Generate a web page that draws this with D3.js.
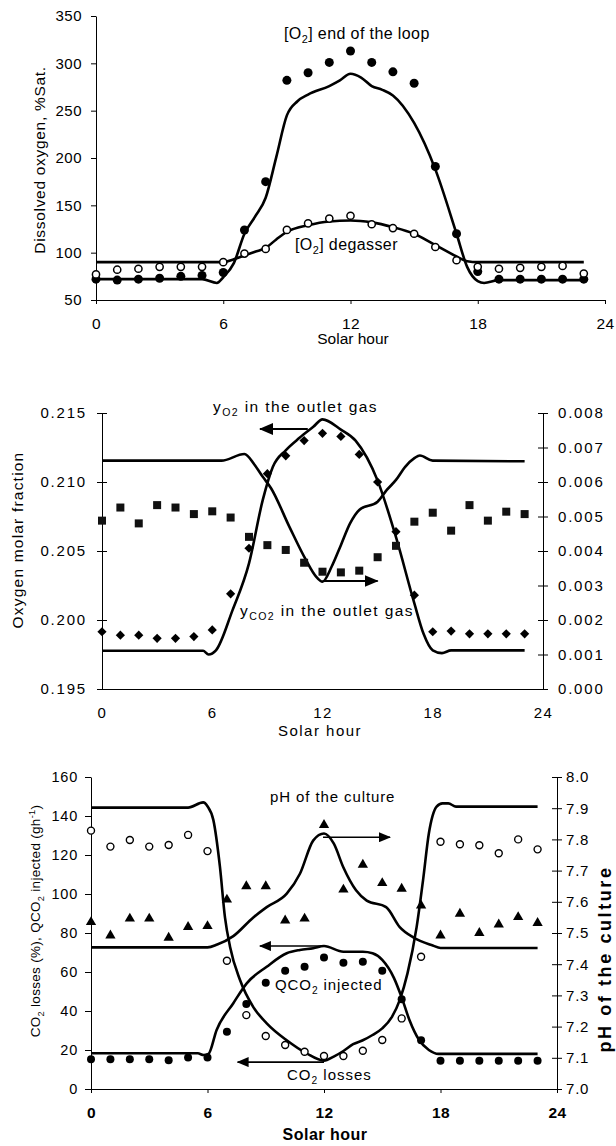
<!DOCTYPE html>
<html>
<head>
<meta charset="utf-8">
<script src="https://cdn.jsdelivr.net/npm/d3@7"></script>
<style>
  body { margin: 0; background: #fff; }
  svg { display: block; font-family: "Liberation Sans", Arial, sans-serif; }
  .axis path, .axis line { stroke: #000; stroke-width: 1; }
  .axis text { fill: #000; }
  .model { fill: none; stroke: #000; stroke-width: 2.6; stroke-linejoin: round; }
</style>
</head>
<body>
<div id="chart"></div>
<script>
// ---- data ----
const hours = [0,1,2,3,4,5,6,7,8,9,10,11,12,13,14,15,16,17,18,19,20,21,22,23];
const xTicks = [0, 6, 12, 18, 24];

// panel 1 : dissolved oxygen (%Sat.)
const o2LoopObs = [72,71,72,73,75,76,79,124,175,282,290,301,313,301,291,279,191,120,80,72,72,72,72,72];
const o2DegasObs = [77,82,83,85,85,85,90,99,104,124,131,136,139,130,126,120,106,92,85,83,84,85,86,78];
const o2LoopModelH = [0,5,5.7,6,6.5,7,7.5,8,8.5,9,9.5,10,11,11.5,12,12.5,13,13.5,14,15,16,17,17.5,18,18.3,19,23];
const o2LoopModel  = [72,72,68,74,89,120,138,158,201,245,260,267,276,282,289,285,276,272,266,237,188,120,85,70,68,71,71];
const o2DegasModelH = [0,6,6.5,7,7.5,8,8.5,9,10,11,12,13,14,15,16,17,17.5,18,23];
const o2DegasModel  = [90,90,93,97,101,105,114,122,129,133,134,132,127,120,108,96,91,90,90];
const o2Ticks = [50,100,150,200,250,300,350];

// panel 2 : outlet gas
const yO2Obs = [0.19915,0.1989,0.1989,0.19867,0.19867,0.1988,0.19928,0.2019,0.2052,0.2106,0.2119,0.2130,0.21353,0.2133,0.2120,0.2100,0.2064,0.2018,0.19915,0.1992,0.1990,0.1990,0.1990,0.1990];
const yCO2Obs = [0.00488,0.00526,0.0048,0.00533,0.00526,0.00507,0.00515,0.00497,0.00441,0.00417,0.00403,0.00366,0.0034,0.00338,0.00343,0.00382,0.00415,0.00485,0.00511,0.00459,0.00533,0.00488,0.00514,0.00507];
const yO2ModelH = [0,5.5,5.8,6.2,7.1,8,8.75,9.3,10,10.75,11.5,12,13,13.8,15,16,17,17.5,18,18.5,19,23];
const yO2Model  = [0.19777,0.19777,0.1975,0.1978,0.2007,0.2041,0.2087,0.2111,0.2123,0.2132,0.2140,0.21454,0.2138,0.2130,0.2101,0.2060,0.2012,0.1990,0.1978,0.1976,0.1978,0.1978];
const yCO2ModelH = [0,6.5,7.75,8.3,8.75,9.2,10.2,11.1,11.65,12,12.5,13,13.5,14,15,15.5,16,16.5,17,17.3,18,23];
const yCO2Model  = [0.00662,0.00662,0.00681,0.0065,0.00615,0.00582,0.0047,0.00374,0.00326,0.00311,0.00355,0.00417,0.0048,0.00519,0.00543,0.00577,0.00606,0.00644,0.00669,0.00677,0.00662,0.0066];
const fracTicks = [0.195,0.200,0.205,0.210,0.215];
const co2FracTicks = [0,0.001,0.002,0.003,0.004,0.005,0.006,0.007,0.008];

// panel 3 : CO2 losses, QCO2 injected, pH
const lossObs = [132.5,124.3,127.7,124.3,125.1,130.3,122,65.8,37.9,27.2,22.6,19.1,16.9,16.9,19.6,25.1,36.2,67.8,126.8,125.5,125,120.9,128,122.9];
const qco2Obs = [15.2,15.2,15.2,15.2,14.7,16.2,16.2,29.4,43.6,54.5,60.7,62.7,67.5,64.8,65.3,60.7,46,25,14.5,14.5,14.5,14.5,14.5,14.5];
const phObs = [7.535,7.492,7.546,7.546,7.485,7.519,7.522,7.607,7.65,7.65,7.54,7.546,7.846,7.639,7.719,7.66,7.642,7.588,7.492,7.562,7.5,7.527,7.551,7.532];
const lossModelH = [0,5,5.78,6,6.3,6.64,6.9,7.16,7.67,8.36,9.05,10.08,11.1,12,12.5,13,13.5,14,14.5,15,15.5,15.9,16.3,16.77,17.1,17.4,17.8,18.1,18.4,18.8,23];
const lossModel  = [144.3,144.3,147,145,138,114,88,73,56,42,33.7,25,18.3,14.5,16.6,19.5,23,25,27.7,31.1,37,45.6,59.3,83,107,131,144.8,146.5,146.5,144.8,144.8];
const qco2ModelH = [0,5.5,5.8,6.05,6.47,7.33,8.02,9.05,10.08,10.76,11.45,12,13,14,14.5,15,15.6,16,16.4,16.9,17.4,17.9,23];
const qco2Model  = [18.3,18.3,17.4,18,30.3,44,54.2,62.7,69.6,71.3,72.2,73.3,70.4,70.4,69.6,66.2,57,47,35.4,25.1,20,18,18];
const phModelH = [0,6,6.5,7.33,8.36,9.05,10.08,10.76,11.45,12,12.5,13,13.65,14.2,15.2,15.9,16.6,17.6,18,23];
const phModel  = [7.454,7.454,7.463,7.49,7.55,7.583,7.626,7.69,7.797,7.819,7.787,7.71,7.637,7.604,7.583,7.519,7.486,7.46,7.452,7.452];
const leftTicks3 = [0,20,40,60,80,100,120,140,160];
const phTicks = [7.0,7.1,7.2,7.3,7.4,7.5,7.6,7.7,7.8,7.9,8.0];

// ---- drawing ----
const W = 616, H = 1146;
const svg = d3.select("#chart").append("svg").attr("width", W).attr("height", H);

const defs = svg.append("defs");
defs.append("marker").attr("id", "headBig")
  .attr("viewBox", "0 0 14 12").attr("refX", 13).attr("refY", 6)
  .attr("markerWidth", 14).attr("markerHeight", 12)
  .attr("markerUnits", "userSpaceOnUse").attr("orient", "auto")
  .append("path").attr("d", "M0,0 L14,6 L0,12 Z").attr("fill", "#000");
defs.append("marker").attr("id", "headSmall")
  .attr("viewBox", "0 0 12 10").attr("refX", 11).attr("refY", 5)
  .attr("markerWidth", 12).attr("markerHeight", 10)
  .attr("markerUnits", "userSpaceOnUse").attr("orient", "auto")
  .append("path").attr("d", "M0,0 L12,5 L0,10 Z").attr("fill", "#000");

// text with sub/superscript parts: [text, "sub"|"sup"|undefined]
function richText(g, x, y, parts, size, opts = {}) {
  const t = g.append("text").attr("x", x).attr("y", y).attr("font-size", size)
    .attr("text-anchor", opts.anchor || "start")
    .attr("font-weight", opts.weight || "normal")
    .attr("letter-spacing", opts.spacing || 0);
  if (opts.rotate) t.attr("transform", "rotate(" + opts.rotate + "," + x + "," + y + ")");
  let shift = 0;
  parts.forEach(p => {
    const s = t.append("tspan").text(p[0]);
    let want = p[1] === "sub" ? size * 0.28 : p[1] === "sup" ? -size * 0.38 : 0;
    if (p[1]) s.attr("font-size", size * 0.68);
    if (want !== shift) { s.attr("dy", want - shift); shift = want; }
  });
  return t;
}

function styleAxis(g, size, spacing, weight) {
  g.attr("font-size", size).attr("font-family", null);
  g.selectAll("text").attr("letter-spacing", spacing || 0).attr("font-weight", weight || "normal");
}

// tick marks from a to b (relative to the axis line)
function tickSpan(g, a, b) {
  g.selectAll(".tick line").attr("x1", a).attr("x2", b);
}

function modelLine(x, y) {
  return d3.line().x(d => x(d[0])).y(d => y(d[1])).curve(d3.curveMonotoneX);
}

function zipH(h, v) { return h.map((d, i) => [d, v[i]]); }

function arrow(g, x0, y0, x1, y1, head, w) {
  g.append("line").attr("x1", x0).attr("y1", y0).attr("x2", x1).attr("y2", y1)
    .attr("stroke", "#000").attr("stroke-width", w).attr("marker-end", "url(#" + head + ")");
}

// ===== Panel 1 =====
const p1 = svg.append("g");
const x1 = d3.scaleLinear().domain([0, 24]).range([96, 605]);
const y1 = d3.scaleLinear().domain([50, 350]).range([300, 16]);

p1.append("g").attr("class", "axis").attr("transform", "translate(0," + y1(50) + ")")
  .call(d3.axisBottom(x1).tickValues(xTicks).tickFormat(d3.format("d")).tickSize(4).tickSizeOuter(0).tickPadding(14))
  .call(g => styleAxis(g, 15.5, 0.5));
p1.append("g").attr("class", "axis").attr("transform", "translate(" + x1(0) + ",0)")
  .call(d3.axisLeft(y1).tickValues(o2Ticks).tickSize(5).tickSizeOuter(0).tickPadding(9))
  .call(g => styleAxis(g, 15, 0.5));

p1.append("path").datum(zipH(o2DegasModelH, o2DegasModel)).attr("class", "model").attr("d", modelLine(x1, y1));
p1.append("path").datum(zipH(o2LoopModelH, o2LoopModel)).attr("class", "model").attr("d", modelLine(x1, y1));

p1.selectAll("circle.loop").data(hours).join("circle").attr("class", "loop")
  .attr("cx", d => x1(d)).attr("cy", (d, i) => y1(o2LoopObs[i])).attr("r", 4.5).attr("fill", "#000");
p1.selectAll("circle.degas").data(hours).join("circle").attr("class", "degas")
  .attr("cx", d => x1(d)).attr("cy", (d, i) => y1(o2DegasObs[i])).attr("r", 3.6)
  .attr("fill", "#fff").attr("stroke", "#000").attr("stroke-width", 1.5);

richText(p1, 284, 39, [["[O"], ["2", "sub"], ["] end of the loop"]], 16, { spacing: 0.4 });
richText(p1, 295, 250, [["[O"], ["2", "sub"], ["] degasser"]], 16, { spacing: 0.4 });
richText(p1, 353, 344, [["Solar hour"]], 15.5, { anchor: "middle" });
richText(p1, 45, 160, [["Dissolved oxygen, %Sat."]], 15.5, { anchor: "middle", rotate: -90, spacing: 0.7 });

// ===== Panel 2 =====
const p2 = svg.append("g");
const x2 = d3.scaleLinear().domain([0, 24]).range([102, 543]);
const y2 = d3.scaleLinear().domain([0.195, 0.215]).range([689, 413]);
const y2r = d3.scaleLinear().domain([0, 0.008]).range([689, 413]);

p2.append("g").attr("class", "axis").attr("transform", "translate(0," + y2(0.195) + ")")
  .call(d3.axisBottom(x2).tickValues(xTicks).tickFormat(d3.format("d")).tickSize(0).tickSizeOuter(0).tickPadding(18))
  .call(g => styleAxis(g, 15, 1.5));
p2.append("g").attr("class", "axis").attr("transform", "translate(" + x2(0) + ",0)")
  .call(d3.axisLeft(y2).tickValues(fracTicks).tickFormat(d3.format(".3f")).tickSize(5).tickSizeOuter(0).tickPadding(10))
  .call(g => styleAxis(g, 15, 1.8)).call(g => tickSpan(g, -5, 5));
p2.append("g").attr("class", "axis").attr("transform", "translate(" + x2(24) + ",0)")
  .call(d3.axisRight(y2r).tickValues(co2FracTicks).tickFormat(d3.format(".3f")).tickSize(5).tickSizeOuter(0).tickPadding(10))
  .call(g => styleAxis(g, 15, 1.8)).call(g => tickSpan(g, -5, 5));

p2.append("path").datum(zipH(yCO2ModelH, yCO2Model)).attr("class", "model").attr("d", modelLine(x2, y2r));
p2.append("path").datum(zipH(yO2ModelH, yO2Model)).attr("class", "model").attr("d", modelLine(x2, y2));

p2.selectAll("rect.co2").data(hours).join("rect").attr("class", "co2")
  .attr("x", d => x2(d) - 4).attr("y", (d, i) => y2r(yCO2Obs[i]) - 4)
  .attr("width", 8).attr("height", 8).attr("fill", "#111");
p2.selectAll("path.o2").data(hours).join("path").attr("class", "o2")
  .attr("transform", (d, i) => "translate(" + x2(d) + "," + y2(yO2Obs[i]) + ")")
  .attr("d", "M0,-4.6 L4.6,0 L0,4.6 L-4.6,0 Z").attr("fill", "#000");

arrow(p2, x2(11.2), y2(0.21384), x2(8.6), y2(0.21384), "headBig", 2.2);
arrow(p2, x2(12), y2r(0.00313), x2(15.0), y2r(0.00313), "headBig", 2.2);

richText(p2, 213, 412, [["y"], ["O2", "sub"], [" in the outlet gas"]], 15.5, { spacing: 1.4 });
richText(p2, 240, 616, [["y"], ["CO2", "sub"], [" in the outlet gas"]], 15.5, { spacing: 1.4 });
richText(p2, 320, 736, [["Solar hour"]], 15, { anchor: "middle", spacing: 1.5 });
richText(p2, 23, 540, [["Oxygen molar fraction"]], 15.5, { anchor: "middle", rotate: -90, spacing: 1.2 });

// ===== Panel 3 =====
const p3 = svg.append("g");
const x3 = d3.scaleLinear().domain([0, 24]).range([91, 557]);
const y3 = d3.scaleLinear().domain([0, 160]).range([1089, 777]);
const y3r = d3.scaleLinear().domain([7, 8]).range([1089, 777]);

p3.append("g").attr("class", "axis").attr("transform", "translate(0," + y3(0) + ")")
  .call(d3.axisBottom(x3).tickValues(xTicks).tickFormat(d3.format("d")).tickSize(4).tickSizeOuter(0).tickPadding(14))
  .call(g => styleAxis(g, 15.5, 0.5, "bold"));
p3.append("g").attr("class", "axis").attr("transform", "translate(" + x3(0) + ",0)")
  .call(d3.axisLeft(y3).tickValues(leftTicks3).tickSize(6).tickSizeOuter(0).tickPadding(7))
  .call(g => styleAxis(g, 14.5, 0.8));
p3.append("g").attr("class", "axis").attr("transform", "translate(" + x3(24) + ",0)")
  .call(d3.axisRight(y3r).tickValues(phTicks).tickFormat(d3.format(".1f")).tickSize(5).tickSizeOuter(0).tickPadding(4))
  .call(g => styleAxis(g, 15, 0.8)).call(g => tickSpan(g, -5, 5));

p3.append("path").datum(zipH(phModelH, phModel)).attr("class", "model").attr("d", modelLine(x3, y3r));
p3.append("path").datum(zipH(lossModelH, lossModel)).attr("class", "model").attr("d", modelLine(x3, y3));
p3.append("path").datum(zipH(qco2ModelH, qco2Model)).attr("class", "model").attr("d", modelLine(x3, y3));

p3.selectAll("path.ph").data(hours).join("path").attr("class", "ph")
  .attr("transform", (d, i) => "translate(" + x3(d) + "," + y3r(phObs[i]) + ")")
  .attr("d", d3.symbol(d3.symbolTriangle, 46)).attr("fill", "#000");
p3.selectAll("circle.loss").data(hours).join("circle").attr("class", "loss")
  .attr("cx", d => x3(d)).attr("cy", (d, i) => y3(lossObs[i])).attr("r", 3.5)
  .attr("fill", "#fff").attr("stroke", "#000").attr("stroke-width", 1.4);
p3.selectAll("circle.qco2").data(hours).join("circle").attr("class", "qco2")
  .attr("cx", d => x3(d)).attr("cy", (d, i) => y3(qco2Obs[i])).attr("r", 4).attr("fill", "#000");

arrow(p3, x3(11.95), y3r(7.807), x3(15.4), y3r(7.807), "headSmall", 1.6);
arrow(p3, x3(12), y3(73.3), x3(8.7), y3(73.3), "headSmall", 1.6);
arrow(p3, x3(12), y3(13.8), x3(7.55), y3(13.8), "headSmall", 1.6);

richText(p3, 270, 802, [["pH of the culture"]], 15, { spacing: 0.9 });
richText(p3, 275, 990, [["QCO"], ["2", "sub"], [" injected"]], 15, { spacing: 0.9 });
richText(p3, 287, 1080, [["CO"], ["2", "sub"], [" losses"]], 15, { spacing: 1 });
richText(p3, 325, 1140, [["Solar hour"]], 16, { anchor: "middle", weight: "bold", spacing: 0.5 });
richText(p3, 40, 921, [["CO"], ["2", "sub"], [" losses (%), QCO"], ["2", "sub"], [" injected (gh"], ["-1", "sup"], [")"]], 13.5, { anchor: "middle", rotate: -90, spacing: 0.3 });
richText(p3, 611, 959, [["pH of the culture"]], 18, { anchor: "middle", rotate: -90, weight: "bold", spacing: 2.6 });
</script>
</body>
</html>
